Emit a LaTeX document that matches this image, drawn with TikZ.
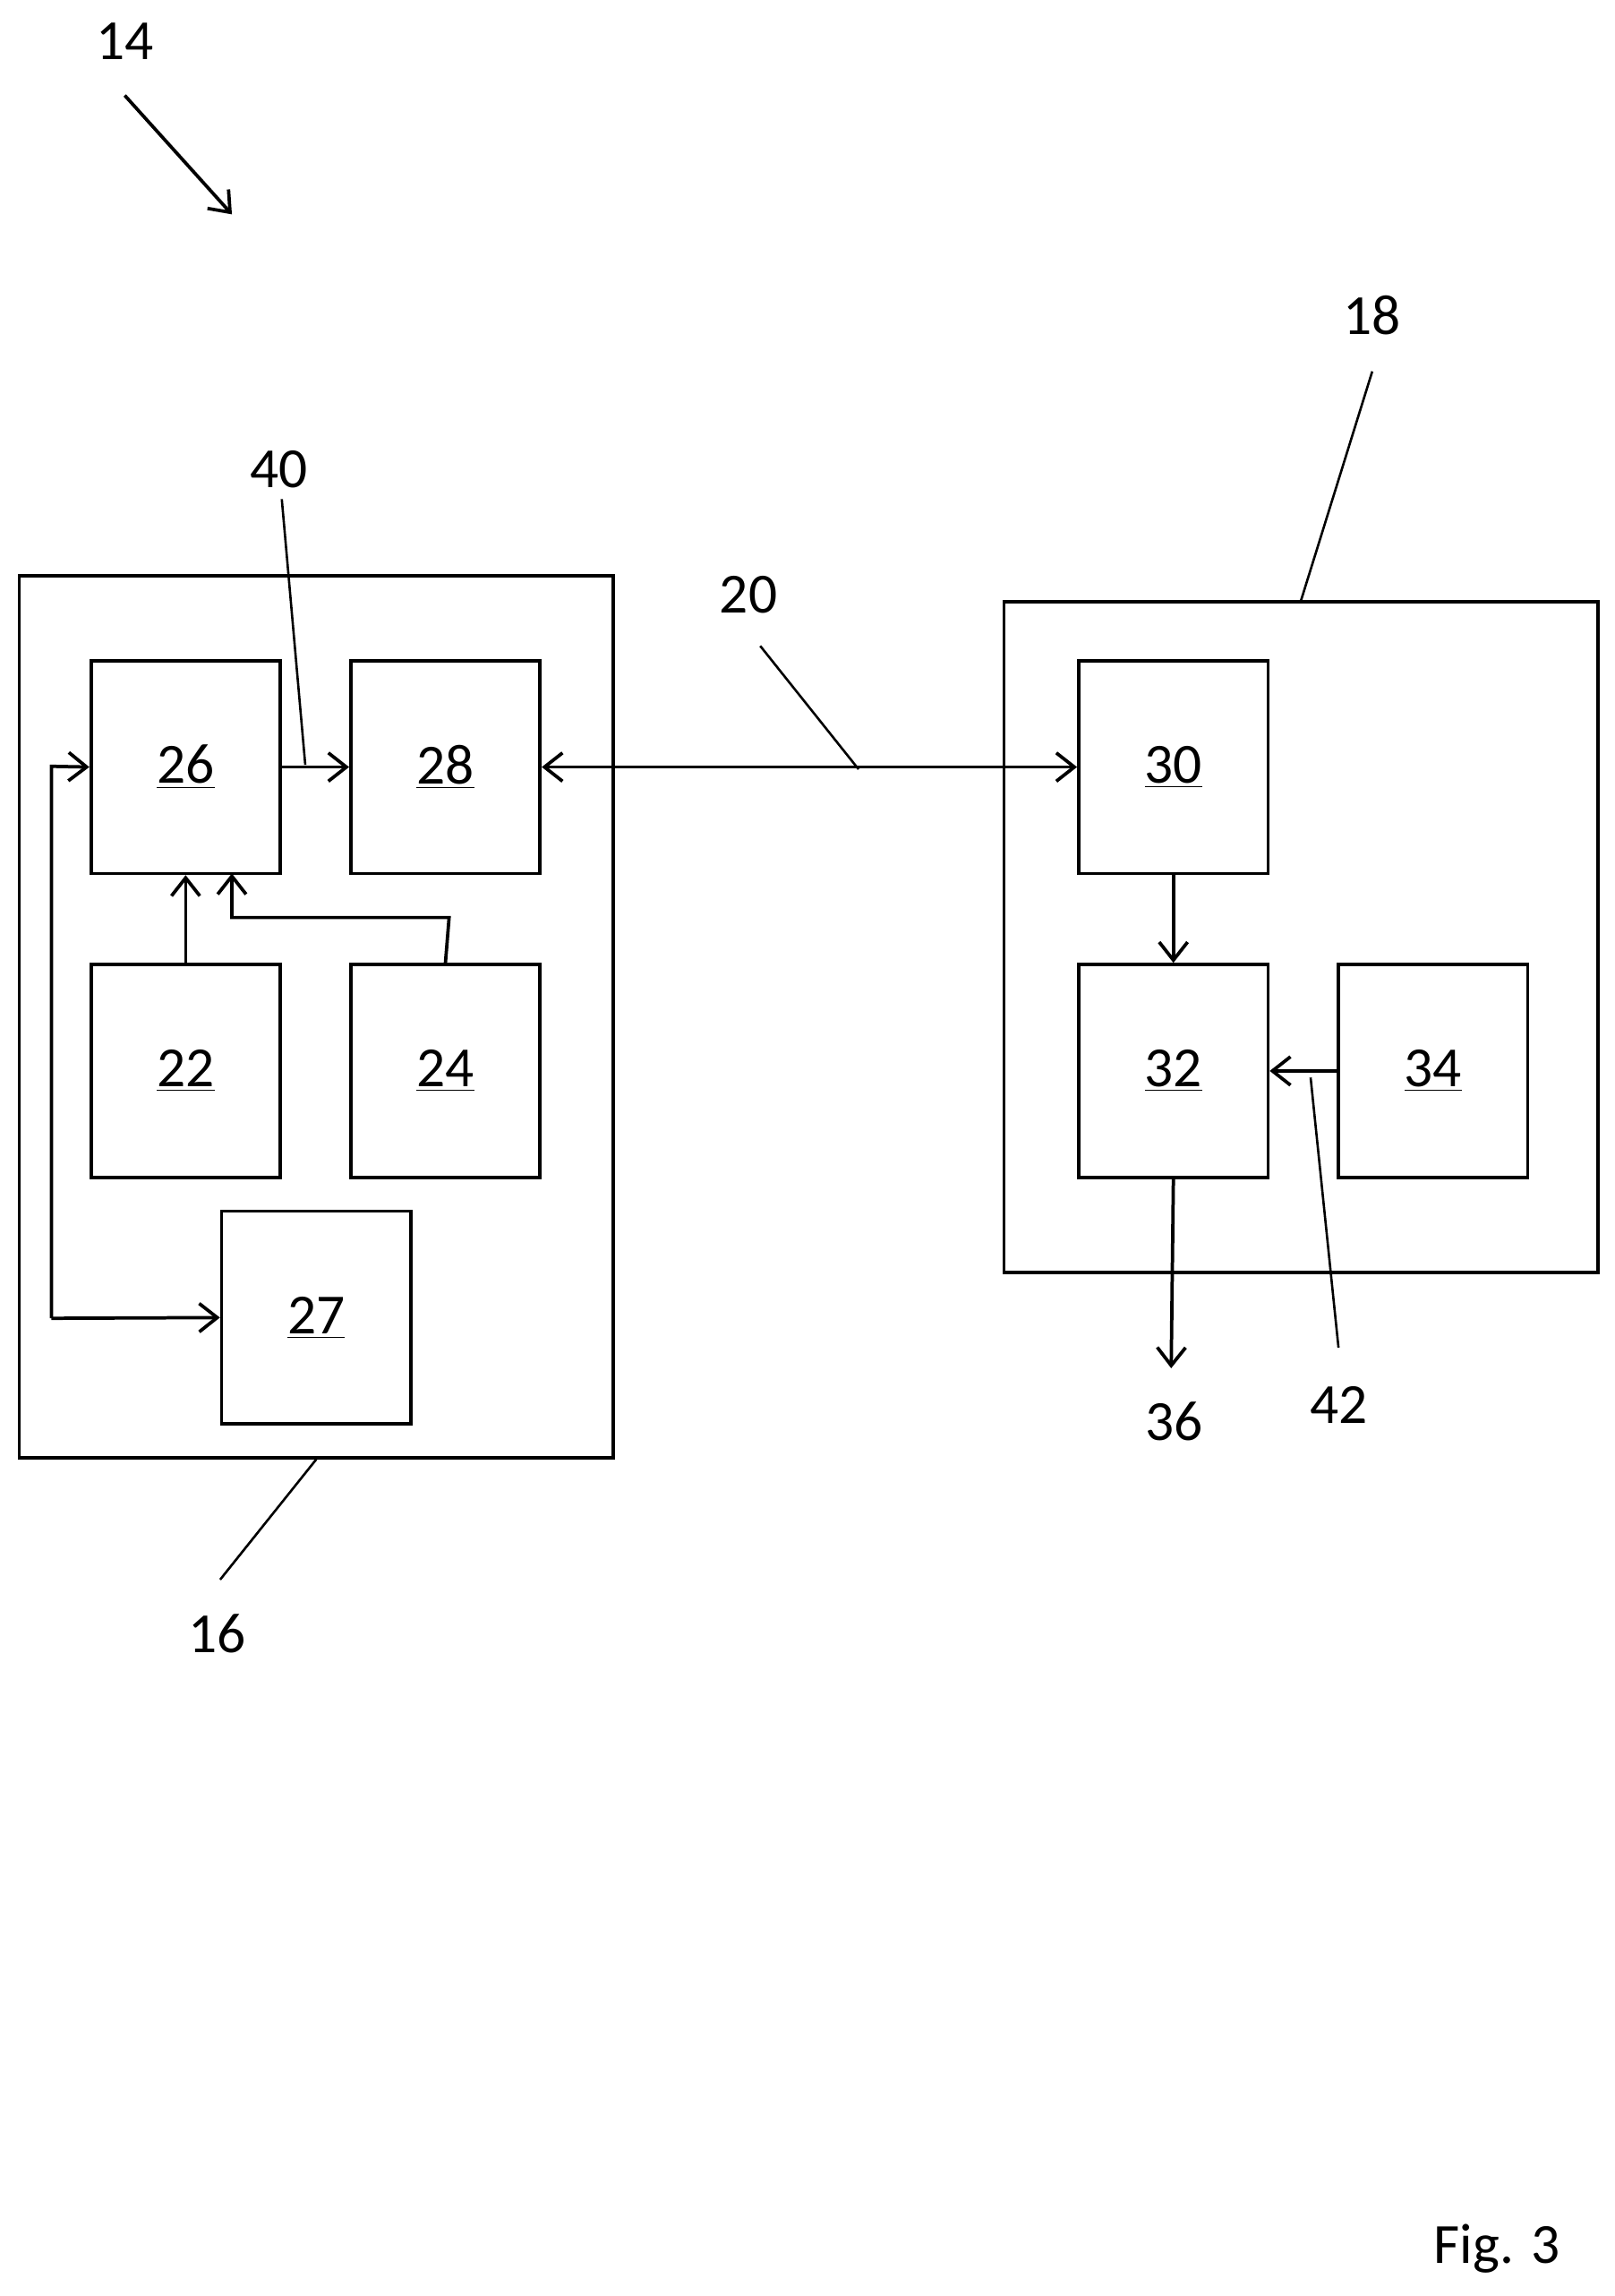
\documentclass[tikz,border=0pt]{standalone}
\usepackage{fontspec}
\setmainfont{Carlito}
\usetikzlibrary{arrows.meta}
\begin{document}
\begin{tikzpicture}[x=0.02cm,y=-0.02cm,
  every node/.style={font=\fontsize{22}{26}\selectfont},
  ln/.style={line width=1.3pt},
  ar/.style={ln,-{Straight Barb[length=7pt,width=11pt]}},
  dar/.style={ln,{Straight Barb[length=7pt,width=11pt]}-{Straight Barb[length=7pt,width=11pt]}},
  leader/.style={line width=0.9pt},
  blk/.style={draw,line width=1.3pt,minimum width=2.58cm,minimum height=2.9cm,inner sep=0pt}]
\useasboundingbox (0,0) rectangle (1100,1564);
\node[draw,line width=1.3pt,minimum width=8.1cm,minimum height=12.02cm,inner sep=0pt] (b16) at (215.5,692.5) {};
\node[draw,line width=1.3pt,minimum width=8.1cm,minimum height=9.14cm,inner sep=0pt] (b18) at (886.5,638.5) {};
\node[blk] (n26) at (126.5,522.5) {\underline{26}};
\node[blk] (n28) at (303.5,522.5) {\underline{28}};
\node[blk] (n22) at (126.5,729.5) {\underline{22}};
\node[blk] (n24) at (303.5,729.5) {\underline{24}};
\node[blk] (n27) at (215.5,897.5) {\underline{27}};
\node[blk] (n30) at (799.5,522.5) {\underline{30}};
\node[blk] (n32) at (799.5,729.5) {\underline{32}};
\node[blk] (n34) at (976.5,729.5) {\underline{34}};
\draw[ar] (n26.east) -- (n28.west);
\draw[dar] (n28.east) -- (n30.west);
\draw[ar] (n22.north) -- (n26.south);
\draw[ar] (n24.north) -- (306,625) -- (158,625) -- (158,595);
\coordinate (lp) at (35,522);
\draw[ar] (35,898) -- (lp) -- (n26.west);
\draw[ar] (35,898) -- (n27.west);
\draw[ar] (n30.south) -- (n32.north);
\draw[ar] (n34.west) -- (n32.east);
\coordinate (e36) at (798,932);
\draw[ar] (n32.south) -- (e36);
\node (l36) at (800,968) {36};
\node (l42) at (912,957) {42};
\draw[leader] (912,918) -- (893,734);
\node (l40) at (190,320) {40};
\draw[leader] (192,340) -- (208,521);
\node (l20) at (510,405) {20};
\draw[leader] (518,440) -- (585,524);
\node (l18) at (935,215) {18};
\draw[leader] (935,253) -- (b18.north);
\node (l16) at (148,1113) {16};
\draw[leader] (150,1076) -- (b16.south);
\node (l14) at (85,28) {14};
\draw[ar] (85,65) -- (158,146);
\node (fig) at (1020,1532) {Fig. 3};
\end{tikzpicture}
\end{document}
